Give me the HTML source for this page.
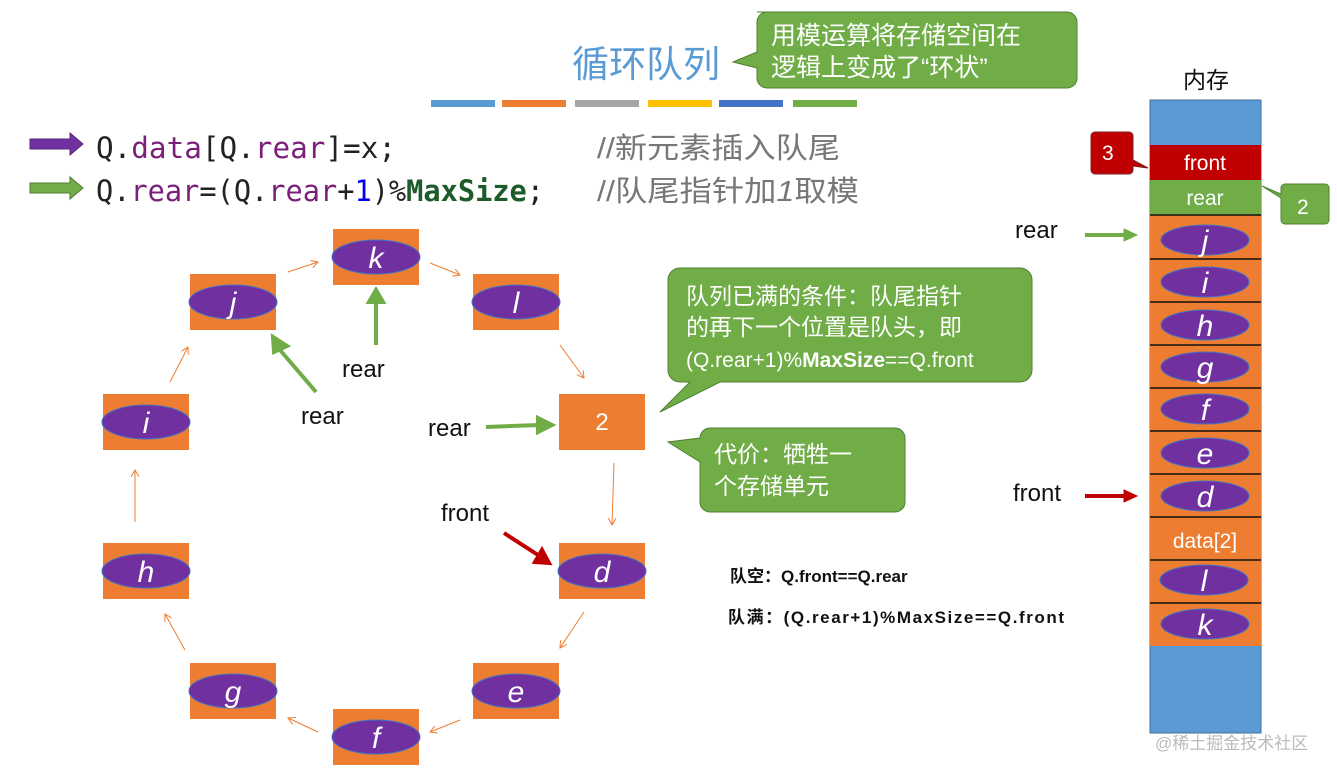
<!DOCTYPE html><html><head><meta charset="utf-8"><style>body{margin:0;background:#fff}svg{display:block}
.cn{font-family:"Liberation Sans","Noto Sans CJK SC",sans-serif}
.mono{font-family:"DejaVu Sans Mono","Liberation Mono",monospace}
</style></head><body>
<svg width="1337" height="773" viewBox="0 0 1337 773" xmlns="http://www.w3.org/2000/svg" class="cn">
<defs>
<marker id="ao" markerWidth="8" markerHeight="8" refX="7" refY="4" orient="auto"><path d="M0,0 L7,4 L0,8" fill="none" stroke="#ed7d31" stroke-width="1"/></marker>
</defs>
<text x="572" y="77" font-size="37" fill="#5b9bd5">循环队列</text>
<path d="M757,12 h310 a10,10 0 0 1 10,10 v56 a10,10 0 0 1 -10,10 h-300 a10,10 0 0 1 -10,-10 v-10 l-24,-6 l24,-10 v-30 a10,10 0 0 1 10,-10z" fill="#70ad47" stroke="#507e32"/>
<text x="771" y="44" font-size="25" fill="#fff">用模运算将存储空间在</text>
<text x="771" y="76" font-size="25" fill="#fff">逻辑上变成了“环状”</text>
<rect x="431" y="100" width="64" height="7" fill="#5b9bd5"/><rect x="502" y="100" width="64" height="7" fill="#ed7d31"/><rect x="575" y="100" width="64" height="7" fill="#a5a5a5"/><rect x="648" y="100" width="64" height="7" fill="#ffc000"/><rect x="719" y="100" width="64" height="7" fill="#4472c4"/><rect x="793" y="100" width="64" height="7" fill="#70ad47"/>
<path d="M30,139 h40 v-6 l13,11 l-13,11 v-6 h-40z" fill="#7030a0" stroke="#5b2a80"/>
<path d="M30,183 h40 v-6 l13,11 l-13,11 v-6 h-40z" fill="#70ad47" stroke="#507e32"/>
<text x="96" y="158" font-size="29" class="mono" fill="#222" textLength="300" lengthAdjust="spacingAndGlyphs">Q.<tspan fill="#7a1f7a">data</tspan>[Q.<tspan fill="#7a1f7a">rear</tspan>]=x;</text>
<text x="96" y="201" font-size="29" class="mono" fill="#222" textLength="448" lengthAdjust="spacingAndGlyphs">Q.<tspan fill="#7a1f7a">rear</tspan>=(Q.<tspan fill="#7a1f7a">rear</tspan>+<tspan fill="#0000ee">1</tspan>)%<tspan fill="#1d5c2a" font-weight="bold">MaxSize</tspan>;</text>
<text x="597" y="158" font-size="29" fill="#777" textLength="243" lengthAdjust="spacingAndGlyphs">//新元素插入队尾</text>
<text x="597" y="201" font-size="29" fill="#777" textLength="262" lengthAdjust="spacingAndGlyphs">//队尾指针加<tspan font-style="italic">1</tspan>取模</text>
<g font-size="30" font-style="italic" fill="#fff" text-anchor="middle">
<rect x="333" y="229" width="86" height="56" fill="#ed7d31"/><ellipse cx="376" cy="257" rx="44" ry="17" fill="#7030a0" stroke="#4472c4"/><text x="376" y="268">k</text>
<rect x="473" y="274" width="86" height="56" fill="#ed7d31"/><ellipse cx="516" cy="302" rx="44" ry="17" fill="#7030a0" stroke="#4472c4"/><text x="516" y="313">l</text>
<rect x="559" y="394" width="86" height="56" fill="#ed7d31"/><text x="602" y="430" font-size="24" font-style="normal">2</text>
<rect x="559" y="543" width="86" height="56" fill="#ed7d31"/><ellipse cx="602" cy="571" rx="44" ry="17" fill="#7030a0" stroke="#4472c4"/><text x="602" y="582">d</text>
<rect x="473" y="663" width="86" height="56" fill="#ed7d31"/><ellipse cx="516" cy="691" rx="44" ry="17" fill="#7030a0" stroke="#4472c4"/><text x="516" y="702">e</text>
<rect x="333" y="709" width="86" height="56" fill="#ed7d31"/><ellipse cx="376" cy="737" rx="44" ry="17" fill="#7030a0" stroke="#4472c4"/><text x="376" y="748">f</text>
<rect x="190" y="663" width="86" height="56" fill="#ed7d31"/><ellipse cx="233" cy="691" rx="44" ry="17" fill="#7030a0" stroke="#4472c4"/><text x="233" y="702">g</text>
<rect x="103" y="543" width="86" height="56" fill="#ed7d31"/><ellipse cx="146" cy="571" rx="44" ry="17" fill="#7030a0" stroke="#4472c4"/><text x="146" y="582">h</text>
<rect x="103" y="394" width="86" height="56" fill="#ed7d31"/><ellipse cx="146" cy="422" rx="44" ry="17" fill="#7030a0" stroke="#4472c4"/><text x="146" y="433">i</text>
<rect x="190" y="274" width="86" height="56" fill="#ed7d31"/><ellipse cx="233" cy="302" rx="44" ry="17" fill="#7030a0" stroke="#4472c4"/><text x="233" y="313">j</text>
</g>
<g stroke="#ed7d31" stroke-width="1" fill="none" marker-end="url(#ao)">
<path d="M288,272 L318,262"/><path d="M430,263 L460,275"/><path d="M560,345 L584,378"/><path d="M614,463 L612,525"/><path d="M584,612 L560,648"/><path d="M460,720 L430,732"/><path d="M318,732 L288,718"/><path d="M185,650 L165,614"/><path d="M135,522 L135,470"/><path d="M170,382 L188,347"/>
</g>
<g stroke="#70ad47" stroke-width="4" fill="#70ad47">
<path d="M376,345 L376,300" fill="none"/><path d="M369,302 L376,290 L383,302z"/>
<path d="M316,392 L280,350" fill="none"/><path d="M274,352 L273,337 L287,346z"/>
<path d="M486,427 L540,425" fill="none"/><path d="M538,418 L552,425 L538,432z"/>
<path d="M1085,235 L1125,235" fill="none"/><path d="M1124,229 L1137,235 L1124,241z" stroke-width="1"/>
</g>
<g stroke="#c00000" stroke-width="4" fill="#c00000">
<path d="M504,533 L538,555" fill="none"/><path d="M535,562 L549,563 L542,550z"/>
<path d="M1085,496 L1125,496" fill="none"/><path d="M1124,490 L1137,496 L1124,502z" stroke-width="1"/>
</g>
<g font-size="24" fill="#111">
<text x="342" y="377">rear</text><text x="301" y="424">rear</text><text x="428" y="436">rear</text><text x="441" y="521">front</text>
<text x="1015" y="238">rear</text><text x="1013" y="501">front</text>
</g>
<path d="M680,268 h340 a12,12 0 0 1 12,12 v90 a12,12 0 0 1 -12,12 h-300 l-60,30 l30,-30 h-10 a12,12 0 0 1 -12,-12 v-90 a12,12 0 0 1 12,-12z" fill="#70ad47" stroke="#507e32"/>
<text x="686" y="304" font-size="23" fill="#fff">队列已满的条件：队尾指针</text>
<text x="686" y="335" font-size="23" fill="#fff">的再下一个位置是队头，即</text>
<text x="686" y="367" font-size="21" fill="#fff">(Q.rear+1)%<tspan font-weight="bold">MaxSize</tspan>==Q.front</text>
<path d="M710,428 h185 a10,10 0 0 1 10,10 v64 a10,10 0 0 1 -10,10 h-185 a10,10 0 0 1 -10,-10 v-40 l-32,-20 l32,-4 v-0 a10,10 0 0 1 10,-10z" fill="#70ad47" stroke="#507e32"/>
<text x="714" y="462" font-size="23" fill="#fff">代价：牺牲一</text>
<text x="714" y="494" font-size="23" fill="#fff">个存储单元</text>
<text x="730" y="582" font-size="17" font-weight="bold" fill="#111">队空：Q.front==Q.rear</text>
<text x="728" y="623" font-size="17" font-weight="bold" fill="#111" textLength="336">队满：(Q.rear+1)%MaxSize==Q.front</text>
<text x="1183" y="88" font-size="23" fill="#111">内存</text>
<rect x="1150" y="100" width="111" height="633" fill="#5b9bd5" stroke="#41719c"/>
<rect x="1150" y="145" width="111" height="35" fill="#c00000"/>
<rect x="1150" y="180" width="111" height="35" fill="#70ad47"/>
<rect x="1150" y="215" width="111" height="431" fill="#ed7d31"/>
<g stroke="#111" stroke-width="1.5"><path d="M1150,215h111M1150,259h111M1150,302h111M1150,345h111M1150,388h111M1150,431h111M1150,474h111M1150,517h111M1150,560h111M1150,603h111"/></g>
<g font-size="30" font-style="italic" fill="#fff" text-anchor="middle">
<ellipse cx="1205" cy="240" rx="44" ry="15" fill="#7030a0" stroke="#4472c4"/><text x="1205" y="251">j</text>
<ellipse cx="1205" cy="282" rx="44" ry="15" fill="#7030a0" stroke="#4472c4"/><text x="1205" y="293">i</text>
<ellipse cx="1205" cy="325" rx="44" ry="15" fill="#7030a0" stroke="#4472c4"/><text x="1205" y="336">h</text>
<ellipse cx="1205" cy="367" rx="44" ry="15" fill="#7030a0" stroke="#4472c4"/><text x="1205" y="378">g</text>
<ellipse cx="1205" cy="409" rx="44" ry="15" fill="#7030a0" stroke="#4472c4"/><text x="1205" y="420">f</text>
<ellipse cx="1205" cy="453" rx="44" ry="15" fill="#7030a0" stroke="#4472c4"/><text x="1205" y="464">e</text>
<ellipse cx="1205" cy="496" rx="44" ry="15" fill="#7030a0" stroke="#4472c4"/><text x="1205" y="507">d</text>
<ellipse cx="1204" cy="580" rx="44" ry="15" fill="#7030a0" stroke="#4472c4"/><text x="1204" y="591">l</text>
<ellipse cx="1205" cy="624" rx="44" ry="15" fill="#7030a0" stroke="#4472c4"/><text x="1205" y="635">k</text>
</g>
<g font-size="21" fill="#fff" text-anchor="middle"><text x="1205" y="170">front</text><text x="1205" y="205">rear</text><text x="1205" y="548">data[2]</text></g>
<path d="M1095,132 h34 a4,4 0 0 1 4,4 v24 l15,8 l-15,-2 v4 a4,4 0 0 1 -4,4 h-34 a4,4 0 0 1 -4,-4 v-34 a4,4 0 0 1 4,-4z" fill="#c00000" stroke="#7f2020"/>
<text x="1102" y="160" font-size="21" fill="#fff">3</text>
<path d="M1285,184 h40 a4,4 0 0 1 4,4 v32 a4,4 0 0 1 -4,4 h-40 a4,4 0 0 1 -4,-4 v-22 l-19,-12 l19,8 v-6 a4,4 0 0 1 4,-4z" fill="#70ad47" stroke="#507e32"/>
<text x="1297" y="214" font-size="21" fill="#fff">2</text>
<text x="1155" y="749" font-size="17" fill="#bbb">@稀土掘金技术社区</text>
</svg></body></html>
